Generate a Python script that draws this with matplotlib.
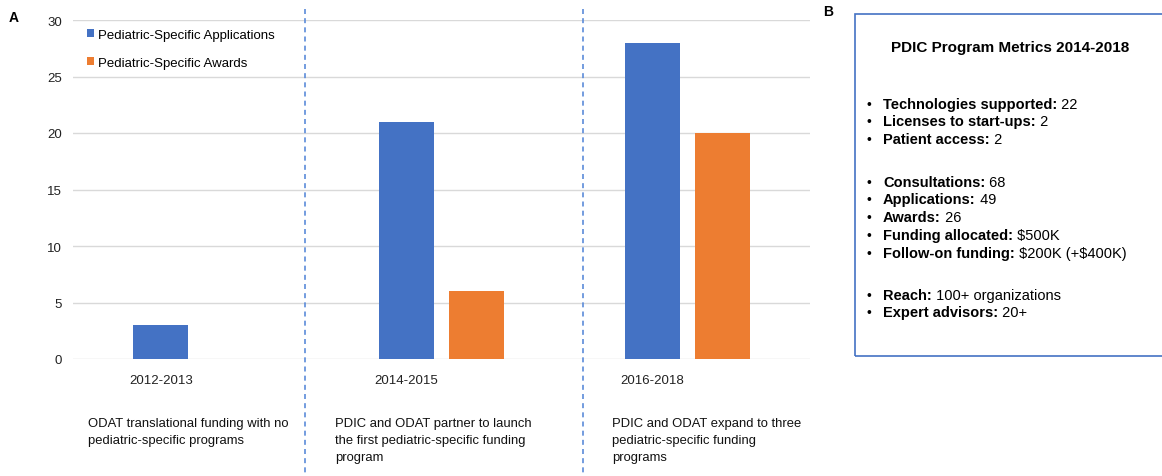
import numpy as np
import matplotlib.pyplot as plt
from matplotlib.patches import Rectangle

plt.rcParams['font.family'] = ['Liberation Sans', 'DejaVu Sans']
plt.rcParams['text.parse_math'] = False

W, H = 1162, 477

periods = ["2012-2013", "2014-2015", "2016-2018"]
applications = [3, 21, 28]
awards = [0, 6, 20]
series_names = ["Pediatric-Specific Applications", "Pediatric-Specific Awards"]

descriptions = [
    "ODAT translational funding with no\npediatric-specific programs",
    "PDIC and ODAT partner to launch\nthe first pediatric-specific funding\nprogram",
    "PDIC and ODAT expand to three\npediatric-specific funding\nprograms",
]

metrics_title = "PDIC Program Metrics 2014-2018"
metric_groups = [
    [("Technologies supported:", " 22"), ("Licenses to start-ups:", " 2"), ("Patient access:", " 2")],
    [("Consultations:", " 68"), ("Applications:", " 49"), ("Awards:", " 26"),
     ("Funding allocated:", " $500K"), ("Follow-on funding:", " $200K (+$400K)")],
    [("Reach:", " 100+ organizations"), ("Expert advisors:", " 20+")],
]

BLUE = "#4472C4"
ORANGE = "#ED7D31"


def fx(px):
    return px / W


def fy(py):
    return 1 - py / H


fig = plt.figure(figsize=(W / 100, H / 100), dpi=100)
ax = fig.add_axes([fx(73), fy(360), fx(810) - fx(73), fy(21) - fy(360)])

x = np.arange(len(periods))
width = 0.224
off = 0.1425
ax.bar(x - off, applications, width, color=BLUE, label=series_names[0], zorder=3)
ax.bar(x + off, awards, width, color=ORANGE, label=series_names[1], zorder=3)

ax.set_xlim(-0.5, 2.5)
ax.set_ylim(0, 30)
ax.set_yticks(range(0, 31, 5))
ax.set_xticks(x - off)
ax.set_xticklabels(periods)
ax.tick_params(axis='both', length=0, labelsize=9.5, colors='#222222')
ax.tick_params(axis='y', pad=8)
ax.tick_params(axis='x', pad=11)
ax.grid(True, axis='y', color='#D9D9D9', linewidth=1, zorder=0)
for s in ax.spines.values():
    s.set_visible(False)

ax.legend(loc='upper left', bbox_to_anchor=(fx(87), fy(30)), bbox_transform=fig.transFigure,
          frameon=False, fontsize=9.5, handlelength=0.55, handleheight=0.55,
          handletextpad=0.3, labelspacing=1.2, borderaxespad=0, borderpad=0)

# dashed separators between periods
for xp in [305, 583]:
    fig.add_artist(plt.Line2D([fx(xp), fx(xp)], [fy(10), fy(477)], transform=fig.transFigure,
                              color="#5B8BD9", linestyle=(0, (3, 2.5)), linewidth=1.2))

for xp, txt in zip([88, 335, 612], descriptions):
    fig.text(fx(xp), fy(418), txt, fontsize=9.4, va='top', ha='left', linespacing=1.55, color='#111111')

fig.text(fx(14), fy(18), "A", fontsize=10, fontweight='bold', va='center', ha='center')
fig.text(fx(828), fy(12), "B", fontsize=10, fontweight='bold', va='center', ha='center')

# panel B box
fig.add_artist(Rectangle((fx(855), fy(357)), fx(1200) - fx(855), fy(15) - fy(357),
                         transform=fig.transFigure, fill=False, edgecolor=BLUE, linewidth=1.2))
fig.text(fx(1010), fy(48), metrics_title, fontsize=11, fontweight='bold', ha='center', va='center')

renderer = fig.canvas.get_renderer()
ys = [[105, 122, 140], [183, 200, 218, 236, 254], [296, 313]]
for group, yrow in zip(metric_groups, ys):
    for (bold, rest), yp in zip(group, yrow):
        base = fy(yp + 4)
        fig.text(fx(869), base, "\u2022", fontsize=10, ha='center', va='baseline')
        t = fig.text(fx(883), base, bold, fontsize=10.5, fontweight='bold', ha='left', va='baseline')
        bw = t.get_window_extent(renderer).width
        fig.text(fx(883 + bw), base, rest, fontsize=10.5, ha='left', va='baseline')

fig.savefig("out.png", dpi=100)
